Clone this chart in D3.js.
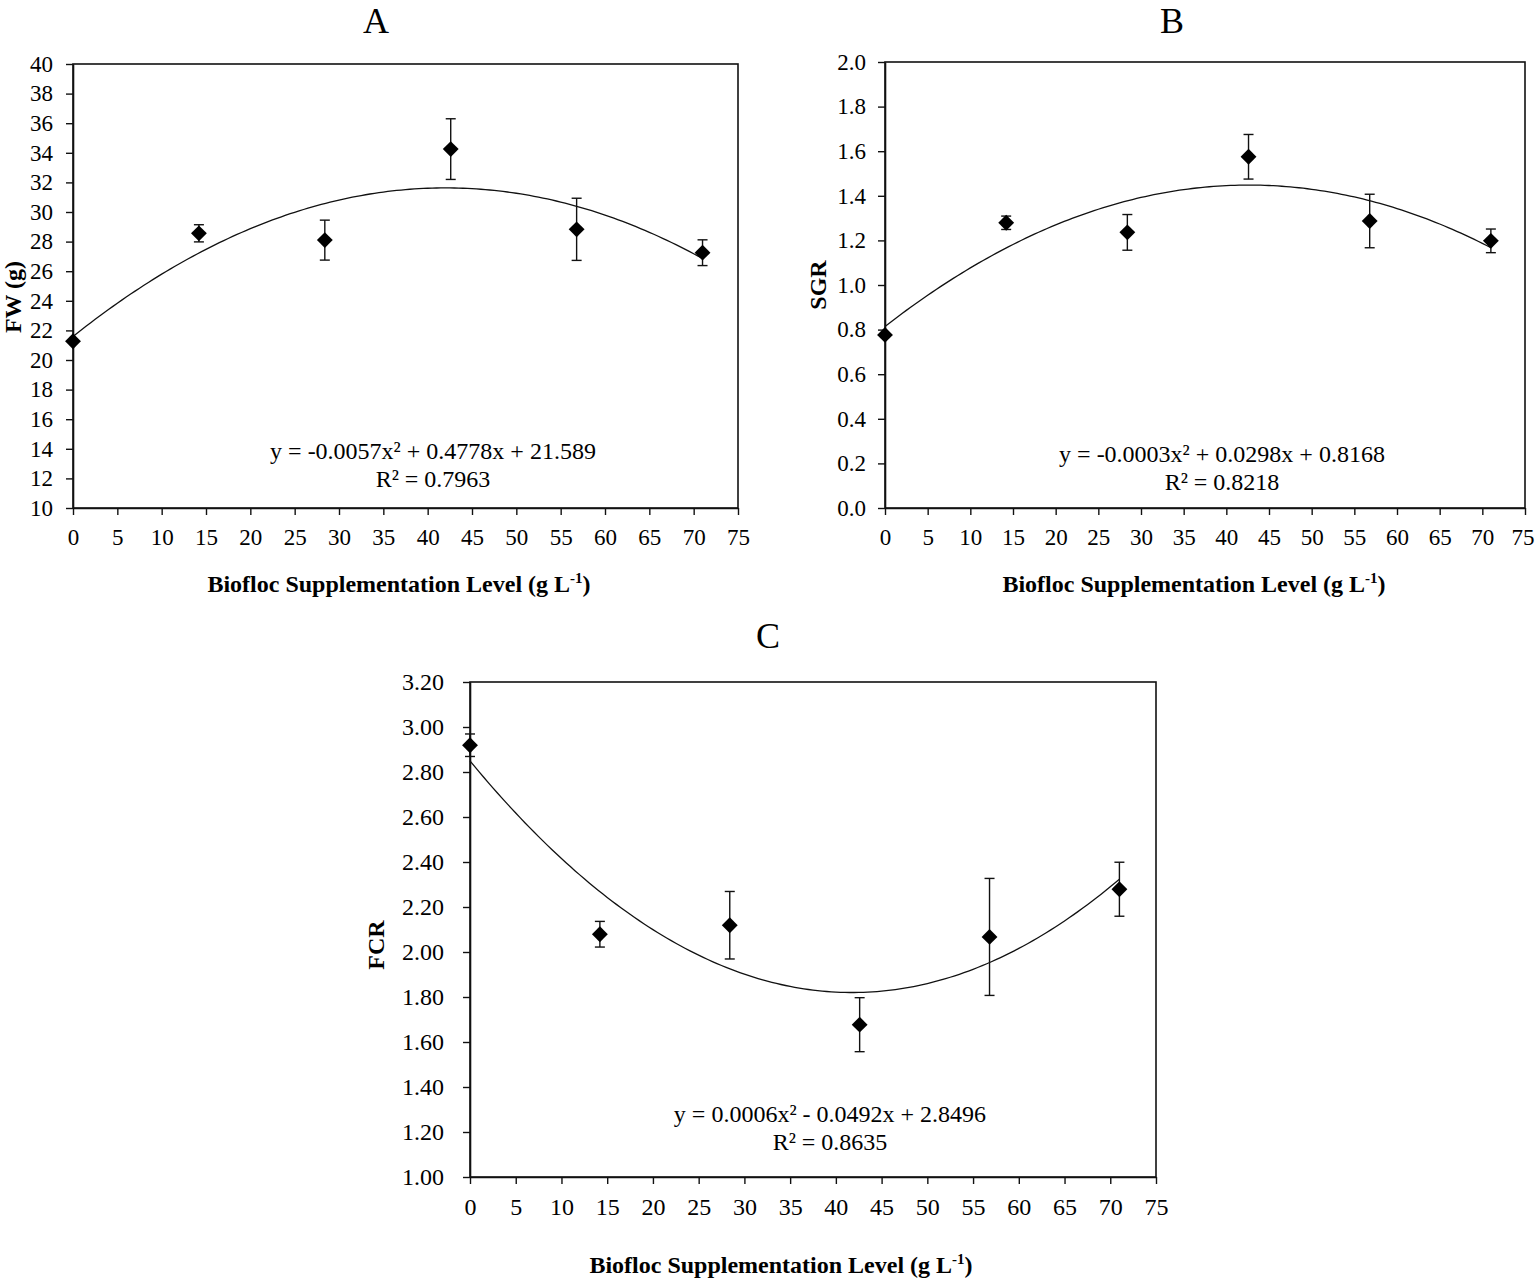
<!DOCTYPE html>
<html>
<head>
<meta charset="utf-8">
<script src="https://cdn.jsdelivr.net/npm/d3@7"></script>
<style>
  html, body { margin: 0; padding: 0; background: #fff; }
  svg { display: block; }
  text { font-family: "Liberation Serif", "Times New Roman", serif; fill: #000; }
</style>
</head>
<body>
<svg id="chart" width="1535" height="1279"></svg>
<script>
// ---------------- data ----------------
const levels = [0, 14.2, 28.4, 42.6, 56.8, 71];

const fwMean = [21.27, 28.56, 28.10, 34.25, 28.83, 27.25];
const fwErr  = [0, 0.58, 1.35, 2.05, 2.10, 0.87];

const sgrMean = [0.776, 1.279, 1.236, 1.575, 1.287, 1.198];
const sgrErr  = [0, 0.03, 0.08, 0.10, 0.12, 0.053];

const fcrMean = [2.919, 2.079, 2.119, 1.677, 2.067, 2.279];
const fcrErr  = [0.05, 0.057, 0.15, 0.12, 0.26, 0.12];

const xTicks = [0, 5, 10, 15, 20, 25, 30, 35, 40, 45, 50, 55, 60, 65, 70, 75];
const fwTicks = [10, 12, 14, 16, 18, 20, 22, 24, 26, 28, 30, 32, 34, 36, 38, 40];
const sgrTicks = [0, 0.2, 0.4, 0.6, 0.8, 1.0, 1.2, 1.4, 1.6, 1.8, 2.0];
const fcrTicks = [1.0, 1.2, 1.4, 1.6, 1.8, 2.0, 2.2, 2.4, 2.6, 2.8, 3.0, 3.2];

const eqTexts = ["y = -0.0057x² + 0.4778x + 21.589", "y = -0.0003x² + 0.0298x + 0.8168", "y = 0.0006x² - 0.0492x + 2.8496"];
const r2Texts = ["R² = 0.7963", "R² = 0.8218", "R² = 0.8635"];

// least-squares quadratic fit (as the spreadsheet trendline does)
function quadFit(xs, ys) {
  const S = k => d3.sum(xs, v => Math.pow(v, k));
  const T = k => d3.sum(xs.map((v, i) => Math.pow(v, k) * ys[i]));
  const M = [[S(4), S(3), S(2), T(2)], [S(3), S(2), S(1), T(1)], [S(2), S(1), xs.length, T(0)]];
  for (let i = 0; i < 3; i++) {
    for (let j = i + 1; j < 3; j++) {
      const f = M[j][i] / M[i][i];
      for (let k = i; k < 4; k++) M[j][k] -= f * M[i][k];
    }
  }
  const c = [0, 0, 0];
  for (let i = 2; i >= 0; i--) {
    let s = M[i][3];
    for (let k = i + 1; k < 3; k++) s -= M[i][k] * c[k];
    c[i] = s / M[i][i];
  }
  return c;
}

const panels = [
  { title: "A", yLabel: "FW (g)", mean: fwMean, err: fwErr, ticks: fwTicks, fmt: d3.format("d"),
    eq: eqTexts[0], r2: r2Texts[0], fs: 23, pad: 13,
    box: { l: 73, r: 738, t: 64, b: 508 }, yDom: [10, 40],
    titleXY: [376, 33], yLabXY: [21, 297], eqXY: [433, 459], xLabXY: [399, 592] },
  { title: "B", yLabel: "SGR", mean: sgrMean, err: sgrErr, ticks: sgrTicks, fmt: d3.format(".1f"),
    eq: eqTexts[1], r2: r2Texts[1], fs: 23, pad: 12,
    box: { l: 885, r: 1525, t: 62, b: 508 }, yDom: [0, 2],
    titleXY: [1172, 33], yLabXY: [826, 285], eqXY: [1222, 462], xLabXY: [1194, 592] },
  { title: "C", yLabel: "FCR", mean: fcrMean, err: fcrErr, ticks: fcrTicks, fmt: d3.format(".2f"),
    eq: eqTexts[2], r2: r2Texts[2], fs: 24, pad: 19,
    box: { l: 470, r: 1156, t: 682, b: 1177 }, yDom: [1, 3.2],
    titleXY: [768, 648], yLabXY: [384, 945], eqXY: [830, 1122], xLabXY: [781, 1273] }
];

const svg = d3.select("#chart");
const W = +svg.attr("width");

panels.forEach(p => {
  const g = svg.append("g");
  const x = d3.scaleLinear().domain([0, 75]).range([p.box.l, p.box.r]);
  const y = d3.scaleLinear().domain(p.yDom).range([p.box.b, p.box.t]);

  // title
  g.append("text").attr("x", p.titleXY[0]).attr("y", p.titleXY[1])
    .attr("text-anchor", "middle").style("font-size", "36px").text(p.title);

  // frame
  g.append("rect").attr("x", p.box.l).attr("y", p.box.t)
    .attr("width", p.box.r - p.box.l).attr("height", p.box.b - p.box.t)
    .attr("fill", "none").attr("stroke", "#111").attr("stroke-width", 1.6);

  // axes
  const xa = g.append("g").attr("transform", `translate(0,${p.box.b})`)
    .call(d3.axisBottom(x).tickValues(xTicks).tickSize(7).tickSizeOuter(0).tickPadding(14).tickFormat(d3.format("d")));
  const ya = g.append("g").attr("transform", `translate(${p.box.l},0)`)
    .call(d3.axisLeft(y).tickValues(p.ticks).tickSize(7).tickSizeOuter(0).tickPadding(p.pad).tickFormat(p.fmt));
  [xa, ya].forEach(a => {
    a.selectAll("path").attr("stroke", "#111").attr("stroke-width", 1.6);
    a.selectAll("line").attr("stroke", "#111").attr("stroke-width", 1.4);
    a.selectAll("text").style("font-family", '"Liberation Serif", serif').style("font-size", p.fs + "px").attr("fill", "#000");
  });
  // keep the last x tick label inside the page edge
  xa.selectAll(".tick text").each(function () {
    const bb = this.getBBox();
    const tx = x(d3.select(this.parentNode).datum());
    const over = tx + bb.x + bb.width - (W - 1);
    if (over > 0) d3.select(this).attr("x", -over);
  });

  // axis labels
  g.append("text").attr("transform", `translate(${p.yLabXY[0]},${p.yLabXY[1]}) rotate(-90)`)
    .attr("text-anchor", "middle").style("font-size", "24px").style("font-weight", "bold").text(p.yLabel);

  const xl = g.append("text").attr("x", p.xLabXY[0]).attr("y", p.xLabXY[1])
    .attr("text-anchor", "middle").style("font-size", "24px").style("font-weight", "bold");
  xl.append("tspan").text("Biofloc Supplementation Level (g L");
  xl.append("tspan").attr("dy", -9).style("font-size", "15px").text("-1");
  xl.append("tspan").attr("dy", 9).text(")");

  // quadratic trendline fitted to the points
  const coef = quadFit(levels, p.mean);
  const fitX = d3.range(0, 71.001, 0.5);
  const line = d3.line().x(d => x(d)).y(d => y(coef[0] * d * d + coef[1] * d + coef[2]));
  g.append("path").datum(fitX).attr("d", line)
    .attr("fill", "none").attr("stroke", "#111").attr("stroke-width", 1.3);

  // error bars
  const pts = levels.map((lv, i) => ({ x: lv, m: p.mean[i], e: p.err[i] }));
  const eb = g.append("g").selectAll("g").data(pts.filter(d => d.e > 0)).join("g")
    .attr("stroke", "#111").attr("stroke-width", 1.4);
  eb.append("line").attr("x1", d => x(d.x)).attr("x2", d => x(d.x))
    .attr("y1", d => y(d.m - d.e)).attr("y2", d => y(d.m + d.e));
  eb.append("line").attr("x1", d => x(d.x) - 5).attr("x2", d => x(d.x) + 5)
    .attr("y1", d => y(d.m + d.e)).attr("y2", d => y(d.m + d.e));
  eb.append("line").attr("x1", d => x(d.x) - 5).attr("x2", d => x(d.x) + 5)
    .attr("y1", d => y(d.m - d.e)).attr("y2", d => y(d.m - d.e));

  // markers
  g.append("g").selectAll("path").data(pts).join("path")
    .attr("transform", d => `translate(${x(d.x)},${y(d.m)})`)
    .attr("d", d3.symbol().type(d3.symbolDiamond2).size(160))
    .attr("fill", "#000");

  // equation
  g.append("text").attr("x", p.eqXY[0]).attr("y", p.eqXY[1]).attr("text-anchor", "middle")
    .style("font-size", "24px").text(p.eq);
  g.append("text").attr("x", p.eqXY[0]).attr("y", p.eqXY[1] + 28).attr("text-anchor", "middle")
    .style("font-size", "24px").text(p.r2);
});
</script>
</body>
</html>
